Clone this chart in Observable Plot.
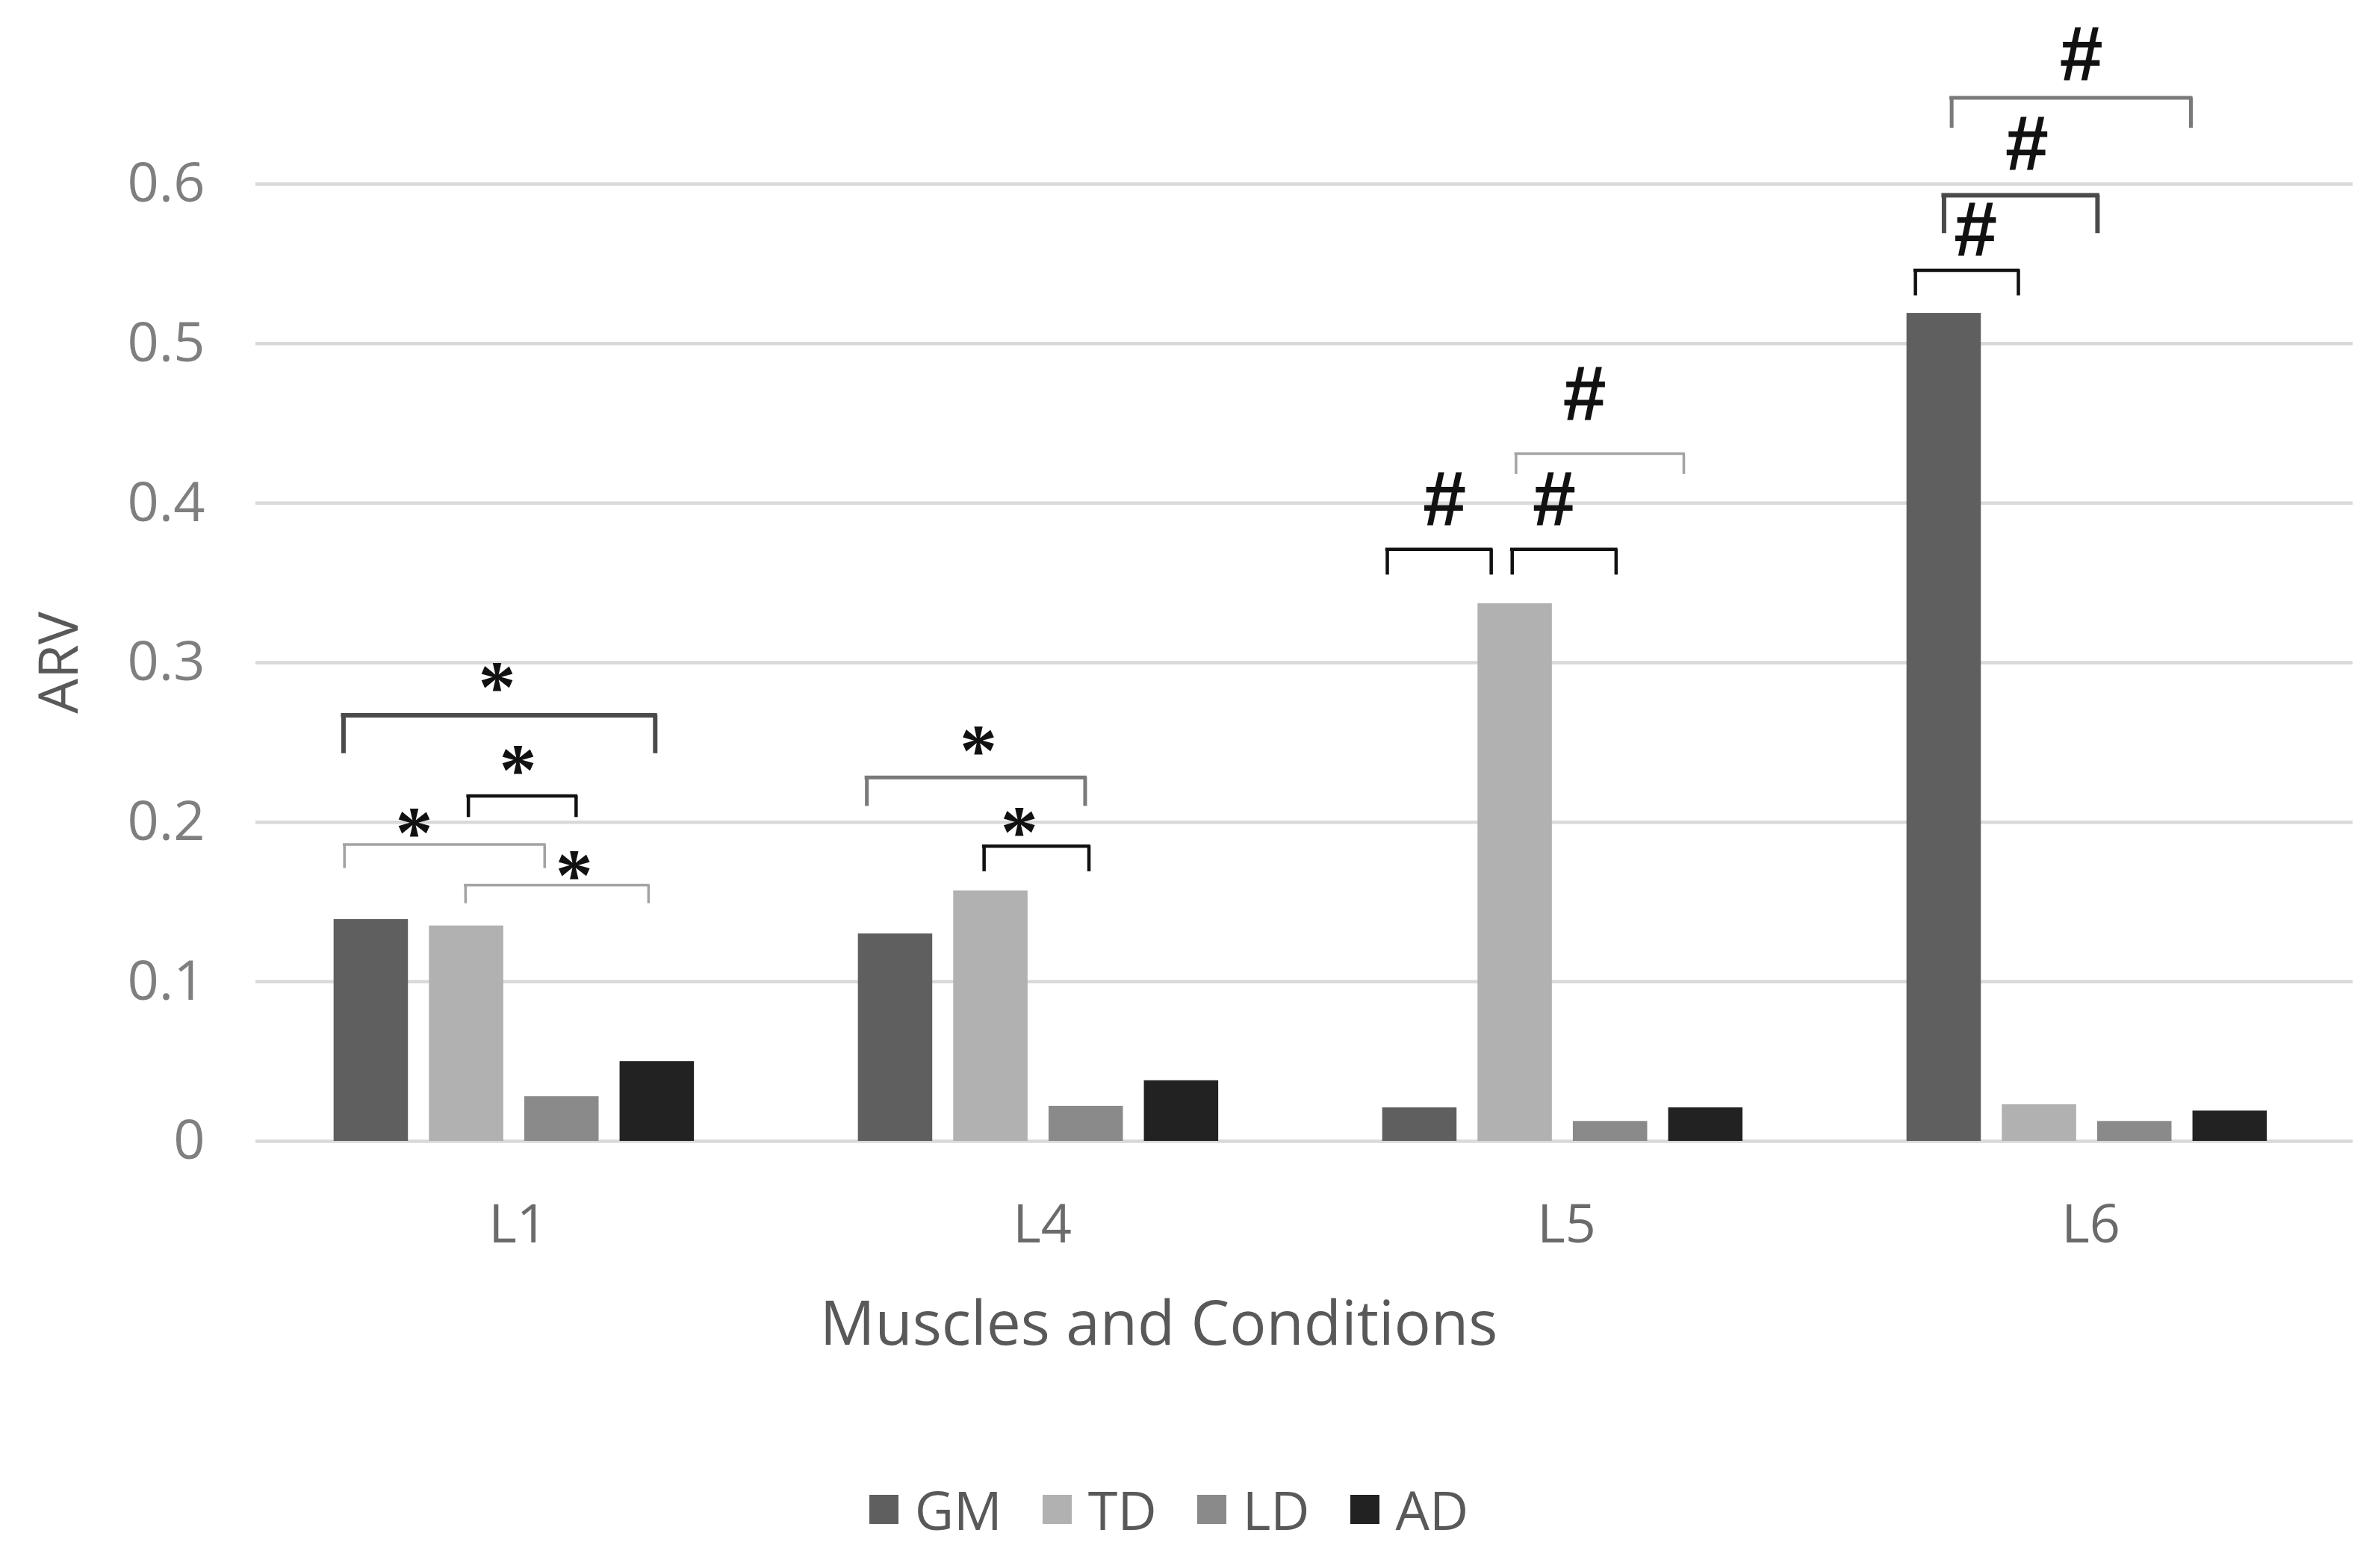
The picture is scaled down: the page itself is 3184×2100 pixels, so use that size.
<!DOCTYPE html>
<html><head><meta charset="utf-8">
<script src="https://cdn.jsdelivr.net/npm/d3@7"></script>
<script src="https://cdn.jsdelivr.net/npm/@observablehq/plot@0.6"></script>
<style>
html,body{margin:0;padding:0;background:#fff}
body{width:3184px;height:2100px;overflow:hidden}
#chart svg{display:block}
g[aria-label="y-axis label"] text{fill:#595959}
g[aria-label="fx-axis label"] text{fill:#595959;font-size:82px;translate:-195px 0}
#legend{display:flex;justify-content:center;margin-top:72px}
.leg-swatches{font-family:'Open Sans',sans-serif !important;font-size:72px !important;color:#595959 !important;margin:0 !important}
.leg-swatches-wrap{min-height:0 !important}
.leg-swatch{margin-right:54px !important}
.leg-swatch > svg{margin-right:22px !important}
</style></head><body>
<div id="chart"></div>
<div id="legend"></div>
<script>
// ---- data ----
const conditions = ["L1", "L4", "L5", "L6"];
const muscles = ["GM", "TD", "LD", "AD"];
const gmValues = [0.139, 0.130, 0.021, 0.519];
const tdValues = [0.135, 0.157, 0.337, 0.023];
const ldValues = [0.028, 0.022, 0.0125, 0.0125];
const adValues = [0.050, 0.038, 0.021, 0.019];
const yTicks = [0, 0.1, 0.2, 0.3, 0.4, 0.5, 0.6];
const yTickLabels = ["0", "0.1", "0.2", "0.3", "0.4", "0.5", "0.6"];

// significance brackets: condition, from/to (bar index units), bar level, leg end
const blackBrackets = [
  {cond: "L1", from: 1.02, to: 2.15, y: 0.2165, leg: 0.203},
  {cond: "L4", from: 0.93, to: 2.03, y: 0.185, leg: 0.169},
  {cond: "L5", from: -0.34, to: 0.75, y: 0.371, leg: 0.355},
  {cond: "L5", from: 0.97, to: 2.06, y: 0.371, leg: 0.355},
  {cond: "L6", from: -0.30, to: 0.78, y: 0.546, leg: 0.530}
];
const darkBrackets = [
  {cond: "L1", from: -0.29, to: 2.98, y: 0.267, leg: 0.243},
  {cond: "L6", from: 0.00, to: 1.61, y: 0.593, leg: 0.569}
];
const grayBrackets = [
  {cond: "L4", from: -0.30, to: 1.99, y: 0.228, leg: 0.210},
  {cond: "L6", from: 0.08, to: 2.59, y: 0.654, leg: 0.635}
];
const lightBrackets = [
  {cond: "L1", from: -0.28, to: 1.82, y: 0.186, leg: 0.171},
  {cond: "L1", from: 0.99, to: 2.91, y: 0.1605, leg: 0.149},
  {cond: "L5", from: 1.01, to: 2.77, y: 0.431, leg: 0.418}
];
const starMarks = [
  {cond: "L1", x: 1.32, y: 0.292},
  {cond: "L1", x: 1.54, y: 0.240},
  {cond: "L1", x: 0.45, y: 0.2005},
  {cond: "L1", x: 2.13, y: 0.174},
  {cond: "L4", x: 0.87, y: 0.252},
  {cond: "L4", x: 1.30, y: 0.201}
];
const hashMarks = [
  {cond: "L5", x: 0.26, y: 0.398},
  {cond: "L5", x: 1.41, y: 0.398},
  {cond: "L5", x: 1.73, y: 0.464},
  {cond: "L6", x: 0.33, y: 0.567},
  {cond: "L6", x: 0.87, y: 0.621},
  {cond: "L6", x: 1.44, y: 0.677}
];

// ---- table ----
const seriesValues = [gmValues, tdValues, ldValues, adValues];
const rows = conditions.flatMap((c, ci) =>
  muscles.map((m, mi) => ({cond: c, muscle: m, pos: mi, value: seriesValues[mi][ci]})));

const halfBar = 0.39;
function bracketMarks(data, stroke, strokeWidth) {
  return [
    Plot.ruleY(data, {fx: "cond", y: "y", x1: "from", x2: "to", stroke, strokeWidth, strokeLinecap: "square"}),
    Plot.ruleX(data, {fx: "cond", x: "from", y1: "leg", y2: "y", stroke, strokeWidth}),
    Plot.ruleX(data, {fx: "cond", x: "to", y1: "leg", y2: "y", stroke, strokeWidth})
  ];
}

const plot = Plot.plot({
  width: 3184,
  height: 1900,
  marginTop: 246,
  marginBottom: 372,
  marginLeft: 342,
  marginRight: 34,
  style: {fontFamily: "'Open Sans', sans-serif", background: "#fff", overflow: "visible"},
  fx: {domain: conditions, padding: 0, label: null, axis: null},
  x: {domain: [-1.21, 4.29], axis: null},
  y: {domain: [0, 0.6], axis: null},
  color: {domain: muscles, range: ["#5f5f5f", "#b1b1b1", "#8a8a8a", "#222222"]},
  marks: [
    Plot.gridY(yTicks, {stroke: "#d9d9d9", strokeOpacity: 1, strokeWidth: 4.5}),
    Plot.rect(rows, {fx: "cond", x1: d => d.pos - halfBar, x2: d => d.pos + halfBar, y1: 0, y2: "value", fill: "muscle"}),
    Plot.axisY(yTicks, {
      tickSize: 0, tickPadding: 68, fontSize: 74, fill: "#7f7f7f",
      tickFormat: d => yTickLabels[yTicks.indexOf(d)],
      label: "ARV", labelAnchor: "center", labelArrow: "none", labelOffset: 291
    }),
    Plot.axisFx({
      anchor: "bottom",
      tickSize: 0, tickPadding: 84, fontSize: 72, fill: "#6b6b6b",
      label: "Muscles and Conditions", labelAnchor: "center", labelArrow: "none", labelOffset: 272
    }),
    ...bracketMarks(lightBrackets, "#a3a3a3", 3.5),
    ...bracketMarks(grayBrackets, "#7a7a7a", 5),
    ...bracketMarks(darkBrackets, "#4a4a4a", 6),
    ...bracketMarks(blackBrackets, "#111111", 4.5),
    Plot.text(starMarks, {fx: "cond", x: "x", y: "y", text: () => "*", fontFamily: "Liberation Serif", fontWeight: "bold", fontSize: 100, lineAnchor: "bottom", dy: 48, fill: "#111"}),
    Plot.text(hashMarks, {fx: "cond", x: "x", y: "y", text: () => "#", fontFamily: "Liberation Sans", fontWeight: "bold", fontSize: 104, lineAnchor: "bottom", dy: 25, fill: "#111"})
  ]
});
document.getElementById("chart").appendChild(plot);

const legend = plot.legend("color", {
  legend: "swatches", className: "leg", swatchSize: 39
});
document.getElementById("legend").appendChild(legend);
</script>
</body></html>
